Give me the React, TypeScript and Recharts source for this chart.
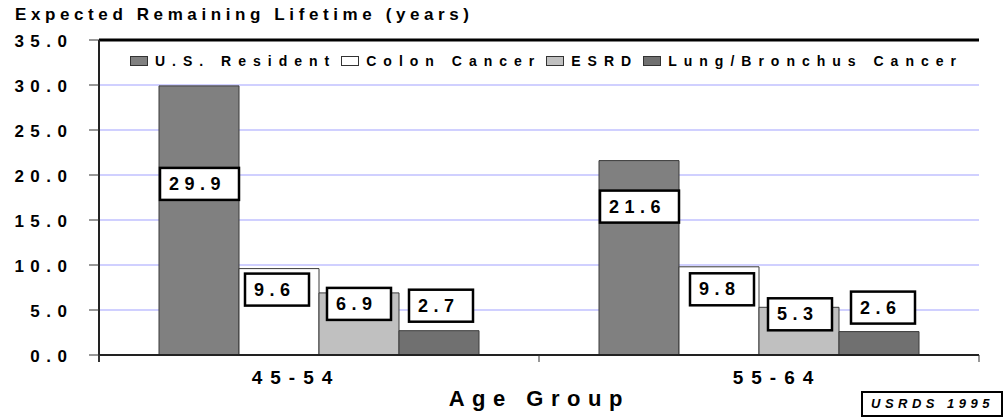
import {
  BarChart,
  Bar,
  XAxis,
  YAxis,
  CartesianGrid,
  ReferenceLine,
  Legend,
  LabelList
} from "recharts";

// =========================
// DATA
// =========================

const groups = ["45-54", "55-64"];
const usResident = [29.9, 21.6];
const colonCancer = [9.6, 9.8];
const esrd = [6.9, 5.3];
const lungBronchus = [2.7, 2.6];

const yTicks = [0, 5, 10, 15, 20, 25, 30, 35];

const seriesKeys = ["us", "colon", "esrd", "lung"];
const seriesNames = ["U.S. Resident", "Colon Cancer", "ESRD", "Lung/Bronchus Cancer"];

// =========================
// STYLE
// =========================

const FONT = "Arial, 'Liberation Sans', Helvetica, sans-serif";
const COLORS: Record<string, string> = {
  us: "#808080",
  colon: "#ffffff",
  esrd: "#c0c0c0",
  lung: "#707070"
};
const GRID = "#c0c0ff";
const BAR_EDGE = "#3a3a3a";

const W = 1004;
const H = 417;
const PLOT_LEFT = 99;
const PLOT_RIGHT = 979;
const PLOT_TOP = 40;
const PLOT_BOTTOM = 355;
const HALF_BAND = (PLOT_RIGHT - PLOT_LEFT) / groups.length / 2;

// label boxes were hand-placed in the original (dx, dy from bar top-left)
const LABEL_OFFSETS: Record<string, [number, number][]> = {
  us: [[0, 81], [0, 29]],
  colon: [[5, 4], [10, 5.5]],
  esrd: [[7, -6], [8, -10]],
  lung: [[9, -42], [11, -41]]
};

// x tick labels sit a little off the band centre in the original
const TICK_SHIFT = [-27, 14];

const rows = groups.map((g, i) => ({
  group: g,
  us: usResident[i],
  colon: colonCancer[i],
  esrd: esrd[i],
  lung: lungBronchus[i]
}));

// =========================
// PIECES
// =========================

const YTick = ({ x, y, payload }: any) => {
  const ls = 6.5;
  return (
    <text
      x={x - 20 + ls}
      y={y + 6.5}
      textAnchor="end"
      fontFamily={FONT}
      fontWeight="bold"
      fontSize={17}
      letterSpacing={ls}
      fill="#000"
    >
      {Number(payload.value).toFixed(1)}
    </text>
  );
};

const XTick = ({ x, payload, index }: any) => {
  const ls = 8;
  const axisY = PLOT_BOTTOM;
  return (
    <g>
      {index === 0 && (
        <line x1={x - HALF_BAND} x2={x - HALF_BAND} y1={axisY} y2={axisY + 7} stroke="#333" strokeWidth={2} />
      )}
      <line x1={x + HALF_BAND} x2={x + HALF_BAND} y1={axisY} y2={axisY + 7} stroke="#333" strokeWidth={1} />
      <text
        x={x + (TICK_SHIFT[index] || 0) + ls / 2}
        y={axisY + 29}
        textAnchor="middle"
        fontFamily={FONT}
        fontWeight="bold"
        fontSize={19}
        letterSpacing={ls}
        fill="#000"
      >
        {payload.value}
      </text>
    </g>
  );
};

const AxisTitle = ({ viewBox }: any) => {
  const ls = 7.5;
  return (
    <text
      x={viewBox.x + viewBox.width / 2 - 3.5 + ls / 2}
      y={viewBox.y + 51}
      textAnchor="middle"
      fontFamily={FONT}
      fontWeight="bold"
      fontSize={22}
      letterSpacing={ls}
      fill="#000"
    >
      Age Group
    </text>
  );
};

const makeBoxLabel = (key: string) => (props: any) => {
  const { x, y, value, index } = props;
  const off = LABEL_OFFSETS[key][index] || [0, 0];
  const text = Number(value).toFixed(1);
  const bw = text.length > 3 ? 81 : 66;
  const bx = Number(x) + off[0];
  const by = Number(y) + off[1];
  return (
    <g>
      <rect x={bx + 1} y={by + 1} width={bw - 2} height={32} fill="#fff" stroke="#000" strokeWidth={2.5} />
      <text
        x={bx + 10}
        y={by + 23}
        fontFamily={FONT}
        fontWeight="bold"
        fontSize={18}
        letterSpacing={5.5}
        fill="#000"
      >
        {text}
      </text>
    </g>
  );
};

const LegendRow = () => (
  <div
    style={{
      display: "flex",
      alignItems: "center",
      whiteSpace: "nowrap",
      fontFamily: FONT,
      fontWeight: "bold",
      fontSize: 14,
      lineHeight: "14px",
      color: "#000"
    }}
  >
    {seriesKeys.map((k, i) => (
      <div key={k} style={{ display: "flex", alignItems: "center", marginRight: 5 }}>
        <span
          style={{
            display: "inline-block",
            boxSizing: "border-box",
            width: 18,
            height: 10,
            background: COLORS[k],
            border: "1px solid #333",
            marginRight: 7
          }}
        />
        <span style={{ letterSpacing: 7 }}>{seriesNames[i]}</span>
      </div>
    ))}
  </div>
);

// =========================
// RENDER
// =========================

export default function App() {
  return (
    <div style={{ position: "absolute", left: 0, top: 0, width: W, height: H, background: "#fff" }}>
      <div
        style={{
          position: "absolute",
          left: 15,
          top: 6,
          fontFamily: FONT,
          fontWeight: "bold",
          fontSize: 17,
          lineHeight: "18px",
          letterSpacing: 4.6,
          whiteSpace: "nowrap",
          color: "#000"
        }}
      >
        Expected Remaining Lifetime (years)
      </div>

      <BarChart
        width={W}
        height={H}
        data={rows}
        margin={{ top: PLOT_TOP, right: W - PLOT_RIGHT, bottom: 0, left: 0 }}
        barGap={0}
        barSize={80}
      >
        <CartesianGrid vertical={false} stroke={GRID} strokeWidth={1.5} />

        <XAxis
          dataKey="group"
          height={H - PLOT_BOTTOM}
          tickLine={false}
          tickSize={0}
          tickMargin={0}
          axisLine={{ stroke: "#222", strokeWidth: 2 }}
          tick={<XTick />}
          interval={0}
          label={<AxisTitle />}
        />

        <YAxis
          width={PLOT_LEFT}
          domain={[0, 35]}
          ticks={yTicks}
          interval={0}
          tickSize={10}
          tickLine={{ stroke: "#333" }}
          axisLine={{ stroke: "#222", strokeWidth: 2 }}
          tick={<YTick />}
        />

        <YAxis
          yAxisId="right"
          orientation="right"
          width={0}
          domain={[0, 35]}
          tick={false}
          tickLine={false}
          axisLine={{ stroke: "#444", strokeWidth: 1 }}
        />

        <ReferenceLine y={35} stroke="#000" strokeWidth={3} />

        <Legend
          layout="vertical"
          align="center"
          verticalAlign="middle"
          wrapperStyle={{ left: 130, top: 54, width: 860 }}
          content={<LegendRow />}
        />

        {seriesKeys.map((k, i) => (
          <Bar
            key={k}
            dataKey={k}
            name={seriesNames[i]}
            fill={COLORS[k]}
            stroke={BAR_EDGE}
            strokeWidth={1}
            isAnimationActive={false}
          >
            <LabelList dataKey={k} content={makeBoxLabel(k)} />
          </Bar>
        ))}
      </BarChart>

      <div
        style={{
          position: "absolute",
          left: 861,
          top: 391,
          width: 142,
          height: 26,
          boxSizing: "border-box",
          border: "2px solid #000",
          background: "#fff",
          paddingLeft: 8,
          fontFamily: FONT,
          fontWeight: "bold",
          fontStyle: "italic",
          fontSize: 13,
          lineHeight: "21px",
          letterSpacing: 4.5,
          whiteSpace: "nowrap",
          color: "#000"
        }}
      >
        USRDS 1995
      </div>
    </div>
  );
}
